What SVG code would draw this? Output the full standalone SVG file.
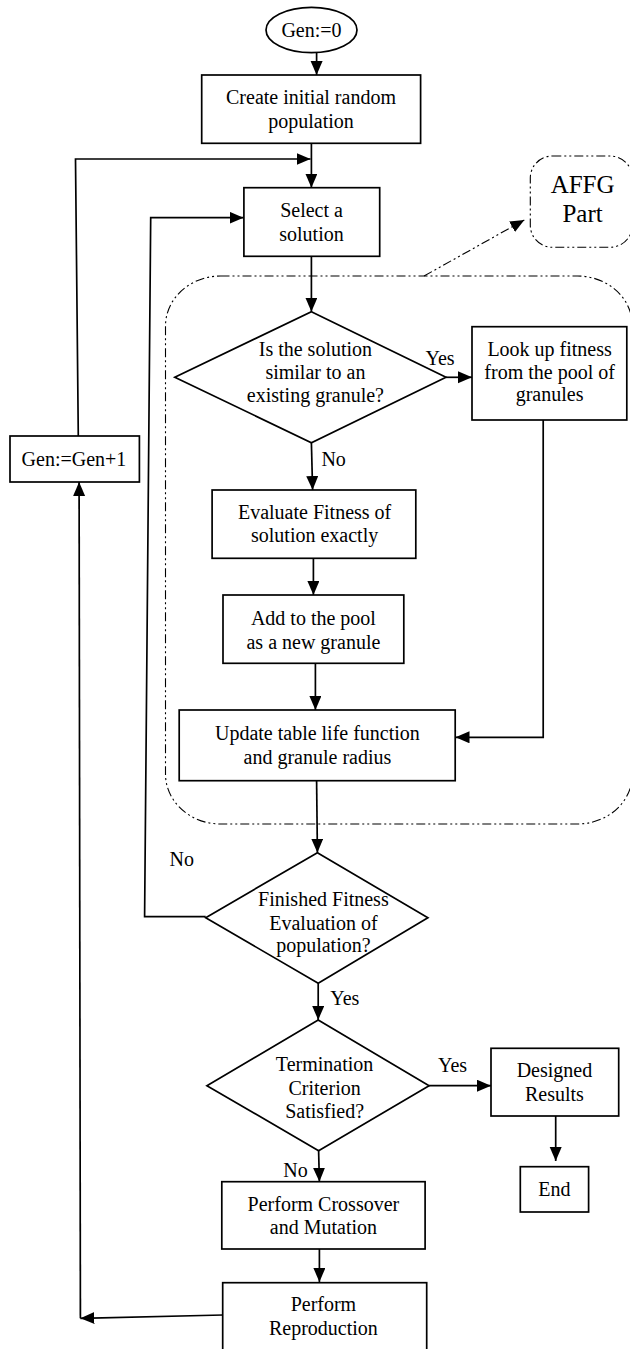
<svg xmlns="http://www.w3.org/2000/svg" width="630" height="1349" viewBox="0 0 630 1349">
<defs>
<marker id="ah" markerUnits="userSpaceOnUse" markerWidth="15" markerHeight="13" refX="14" refY="6" orient="auto">
<path d="M0,0 L14,6 L0,12 z" fill="#000"/>
</marker>
<style>
.n{fill:#fff;stroke:#000;stroke-width:1.7}
.t{font-family:"Liberation Serif","Times New Roman",serif;font-size:20px;fill:#000;text-anchor:middle}
.l{font-family:"Liberation Serif","Times New Roman",serif;font-size:20px;fill:#000}
.c{fill:none;stroke:#000;stroke-width:1.7;marker-end:url(#ah)}
.dd{fill:none;stroke:#000;stroke-width:1.1;stroke-dasharray:9,3,2,3,2,3}
</style>
</defs>
<rect x="0" y="0" width="630" height="1349" fill="#fff"/>

<g id="affg-region">
<rect class="dd" x="165.5" y="276" width="467" height="548" rx="55" ry="50"/>
</g>

<g id="connectors">
<path class="c" d="M316.6,52.7 L316.6,75"/>
<path class="c" d="M311.4,143.3 L311.4,187.7"/>
<path class="c" d="M78.3,436 L75.5,159 L310.5,159"/>
<path class="c" d="M205.7,916.7 L144.6,916.7 L150.7,217.7 L243.5,217.7"/>
<path class="c" d="M311.4,256.3 L311.4,311.7"/>
<path class="dd" style="marker-end:url(#ah)" d="M424,276 L524.3,220"/>
<path class="c" d="M446,377.3 L472,377.3"/>
<path class="c" d="M311.4,442.7 L312.6,490"/>
<path class="c" d="M313.4,558.3 L313.4,595"/>
<path class="c" d="M315.4,663.3 L315.4,710"/>
<path class="c" d="M543.2,420 L543.2,737.3 L455.5,737.3"/>
<path class="c" d="M316.6,780.7 L317.4,852.7"/>
<path class="c" d="M318.2,983.3 L318.2,1020"/>
<path class="c" d="M429.1,1085.7 L491,1085.7"/>
<path class="c" d="M555.7,1116 L555.7,1161"/>
<path class="c" d="M318.6,1150.7 L319.4,1181.7"/>
<path class="c" d="M319.4,1249 L319.4,1282"/>
<path class="c" d="M223,1315 L80.4,1318.3"/>
<path class="c" d="M80.4,1318.3 L79.1,482"/>
</g>

<g id="start">
<ellipse class="n" cx="311.5" cy="30" rx="45.5" ry="22.7"/>
<text class="t" x="311.5" y="36.5">Gen:=0</text>
</g>

<g id="create">
<rect class="n" x="201.7" y="75" width="218.9" height="68.3"/>
<text class="t" x="311" y="104">Create initial random</text>
<text class="t" x="311" y="127.5">population</text>
</g>

<g id="select">
<rect class="n" x="243.9" y="187.7" width="135.8" height="68.6"/>
<text class="t" x="311.5" y="217">Select a</text>
<text class="t" x="311.5" y="241">solution</text>
</g>

<g id="affg">
<rect class="dd" x="530.3" y="156" width="102" height="91.3" rx="22" ry="22"/>
<text class="t" x="582.6" y="193" style="font-size:25px">AFFG</text>
<text class="t" x="582.6" y="222" style="font-size:25px">Part</text>
</g>

<g id="similar">
<polygon class="n" points="311.4,311.7 446,377.3 311.4,442.7 174.8,377.3"/>
<text class="t" x="315.4" y="356">Is the solution</text>
<text class="t" x="315.4" y="379">similar to an</text>
<text class="t" x="315.4" y="401.5">existing granule?</text>
</g>

<g id="lookup">
<rect class="n" x="472" y="326.7" width="154.8" height="93.3"/>
<text class="t" x="549.6" y="356">Look up fitness</text>
<text class="t" x="549.6" y="379">from the pool of</text>
<text class="t" x="549.6" y="401">granules</text>
</g>

<g id="gen-inc">
<rect class="n" x="10" y="436" width="129.4" height="46"/>
<text class="t" x="74" y="466">Gen:=Gen+1</text>
</g>

<g id="evaluate">
<rect class="n" x="212.1" y="490" width="203.7" height="68.3"/>
<text class="t" x="314.6" y="518.5">Evaluate Fitness of</text>
<text class="t" x="314.6" y="542">solution exactly</text>
</g>

<g id="add">
<rect class="n" x="223" y="595" width="180.8" height="68.3"/>
<text class="t" x="313.4" y="625">Add to the pool</text>
<text class="t" x="313.4" y="648.5">as a new granule</text>
</g>

<g id="update">
<rect class="n" x="179.2" y="710" width="276" height="70.7"/>
<text class="t" x="317.4" y="740">Update table life function</text>
<text class="t" x="317.4" y="763.5">and granule radius</text>
</g>

<g id="finished">
<polygon class="n" points="317.4,852.7 427.9,917.7 318.2,983.3 205.7,917.7"/>
<text class="t" x="323.4" y="906">Finished Fitness</text>
<text class="t" x="323.4" y="930">Evaluation of</text>
<text class="t" x="323.4" y="952">population?</text>
</g>

<g id="termination">
<polygon class="n" points="318.2,1020 429.1,1085.7 318.6,1150.7 206.9,1085.7"/>
<text class="t" x="324.6" y="1071">Termination</text>
<text class="t" x="324.6" y="1095">Criterion</text>
<text class="t" x="324.6" y="1117.5">Satisfied?</text>
</g>

<g id="designed">
<rect class="n" x="491" y="1048.3" width="127.7" height="67.7"/>
<text class="t" x="554.4" y="1077">Designed</text>
<text class="t" x="554.4" y="1101">Results</text>
</g>

<g id="end">
<rect class="n" x="520.3" y="1166.7" width="68.3" height="45.3"/>
<text class="t" x="554.4" y="1195.5">End</text>
</g>

<g id="crossover">
<rect class="n" x="221.8" y="1181.7" width="203.3" height="67.3"/>
<text class="t" x="323.4" y="1211">Perform Crossover</text>
<text class="t" x="323.4" y="1234">and Mutation</text>
</g>

<g id="reproduction">
<rect class="n" x="222.7" y="1282.7" width="204" height="75"/>
<text class="t" x="323.4" y="1311">Perform</text>
<text class="t" x="323.4" y="1334.5">Reproduction</text>
</g>

<g id="labels">
<text class="l" x="425.5" y="365">Yes</text>
<text class="l" x="321.4" y="465.5">No</text>
<text class="l" x="169.5" y="866">No</text>
<text class="l" x="330.3" y="1004.5">Yes</text>
<text class="l" x="438" y="1072">Yes</text>
<text class="l" x="283.2" y="1177">No</text>
</g>
</svg>
